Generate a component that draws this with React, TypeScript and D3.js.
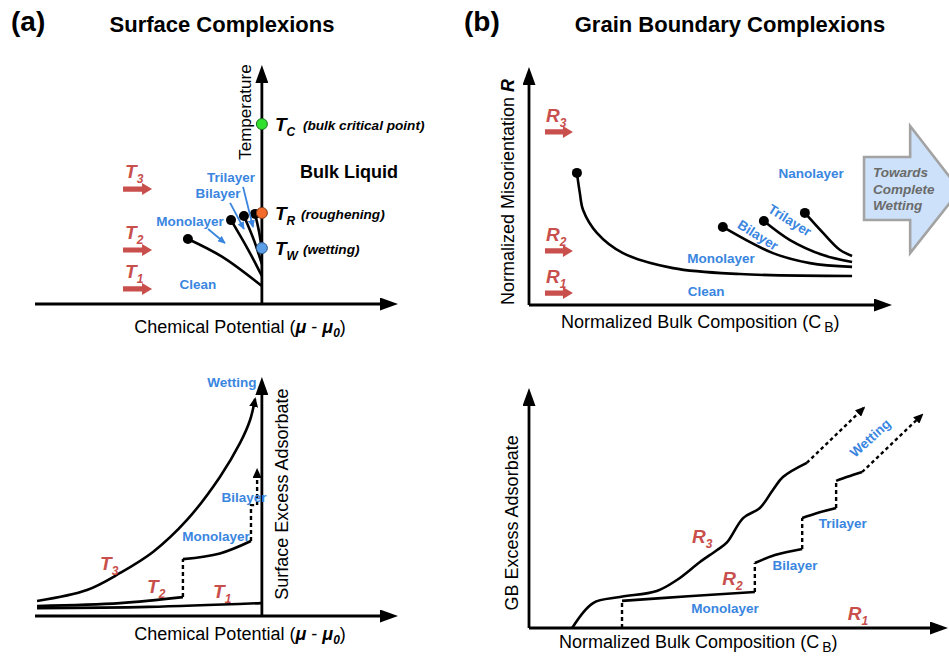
import * as d3 from "d3";

type P = [number, number];

const W = 949;
const H = 656;
const BLUE = "#3a86df";
const RED = "#c84f4c";
const FONT = "'Liberation Sans', Arial, Helvetica, sans-serif";

// ---- (a) top: temperature vs chemical potential ----
const tempPoints = [
  { sub: "C", t: 7.53, fill: "#2fe02f", stroke: "#1d6e1d", note: "(bulk critical point)" },
  { sub: "R", t: 3.81, fill: "#f46a2a", stroke: "#7a3a1a", note: "(roughening)" },
  { sub: "W", t: 2.34, fill: "#5a9ee8", stroke: "#2d5a8a", note: "(wetting)" },
];
const transitionLines: P[][] = [
  [[-3.26, 2.72], [-1.76, 1.98], [0, 0.75]],
  [[-1.36, 3.51], [-0.62, 2.3], [0, 1.17]],
  [[-0.79, 3.68], [-0.33, 2.62], [0, 1.67]],
  [[-0.3, 3.77], [-0.12, 3.0], [0, 2.26]],
];
const tempLevels = [
  { sub: "3", t: 4.81 },
  { sub: "2", t: 2.26 },
  { sub: "1", t: 0.63 },
];
const surfaceLabels = [
  { text: "Trilayer", mu: -1.36, t: 5.31 },
  { text: "Bilayer", mu: -1.93, t: 4.64 },
  { text: "Monolayer", mu: -3.17, t: 3.47 },
  { text: "Clean", mu: -2.82, t: 0.84 },
];
const pointers: [P, P][] = [
  [[-2.37, 3.14], [-1.63, 2.55]],
  [[-1.4, 4.23], [-0.79, 3.14]],
  [[-0.83, 4.9], [-0.39, 3.22]],
];

// ---- (a) bottom: adsorption isotherms ----
const isoT3: P[] = [
  [-9.91, 0.63], [-7.71, 1.09], [-6.25, 1.8], [-4.8, 2.68], [-3.3, 4.02],
  [-1.85, 5.82], [-0.96, 7.24], [-0.52, 8.2], [-0.3, 9.08],
];
const isoT2a: P[] = [[-9.91, 0.42], [-6.25, 0.54], [-3.48, 0.79]];
const isoT2jump1: P[] = [[-3.48, 0.79], [-3.48, 2.38]];
const isoT2b: P[] = [[-3.48, 2.38], [-1.85, 2.62], [-0.48, 3.14]];
const isoT2jump2: P[] = [[-0.48, 3.14], [-0.48, 4.64], [-0.21, 4.64], [-0.21, 6.11]];
const isoT1: P[] = [[-9.91, 0.33], [-5, 0.38], [-0.04, 0.54]];
const isoTemps = [
  { sub: "3", mu: -7.13, g: 1.92 },
  { sub: "2", mu: -5.06, g: 0.96 },
  { sub: "1", mu: -2.15, g: 0.75 },
];
const isoLabels = [
  { text: "Wetting", mu: -1.32, g: 9.79 },
  { text: "Bilayer", mu: -0.79, g: 4.98 },
  { text: "Monolayer", mu: -2.02, g: 3.35 },
];

// ---- (b) top: misorientation vs composition ----
const gbLines: P[][] = [
  [[1.32, 5.55], [1.4, 4.71], [1.49, 3.99], [1.87, 3.03], [2.59, 2.18], [3.97, 1.55], [5.81, 1.3], [8.9, 1.22]],
  [[5.34, 3.28], [6.72, 2.18], [7.74, 1.76], [8.9, 1.6]],
  [[6.47, 3.53], [7.19, 2.73], [8.1, 2.1], [8.9, 1.81]],
  [[7.6, 3.87], [8.1, 3.03], [8.57, 2.31], [8.9, 2.06]],
];
const misLevels = [
  { sub: "3", r: 7.27 },
  { sub: "2", r: 2.27 },
  { sub: "1", r: 0.5 },
];
const gbLabels = [
  { text: "Nanolayer", c: 7.77, r: 5.55, angle: 0 },
  { text: "Trilayer", c: 7.19, r: 3.57, angle: 32 },
  { text: "Bilayer", c: 6.31, r: 2.94, angle: 32 },
  { text: "Monolayer", c: 5.29, r: 1.97, angle: 0 },
  { text: "Clean", c: 4.88, r: 0.59, angle: 0 },
];
const wettingArrow: P[] = [
  [9.23, 6.22], [10.5, 6.22], [10.5, 7.52], [11.87, 4.83],
  [10.5, 2.18], [10.5, 3.57], [9.23, 3.57],
];
const wettingText = ["Towards", "Complete", "Wetting"];
const wettingRows = [5.38, 4.66, 3.99];

// ---- (b) bottom: GB adsorption ----
const gbR3: P[] = [
  [1.03, 0], [1.53, 1.04], [2.17, 1.29], [3.05, 1.54], [3.53, 2.0], [4.08, 2.75],
  [4.49, 3.25], [4.73, 3.58], [5.11, 4.58], [5.51, 5.0], [5.82, 5.75], [6.06, 6.29], [6.63, 6.88],
];
const gbR3Ext: P[] = [[6.63, 6.88], [7.99, 9.17]];
const stepSolid: P[][] = [
  [[2.22, 1.13], [3.8, 1.32], [5.39, 1.5]],
  [[5.39, 2.71], [5.87, 3.04], [6.52, 3.29]],
  [[6.52, 4.58], [6.9, 4.8], [7.33, 5.0]],
  [[7.33, 6.13], [7.6, 6.3], [7.95, 6.5]],
];
const stepDashed: P[][] = [
  [[2.22, 0], [2.22, 1.13]],
  [[5.39, 1.5], [5.39, 2.71]],
  [[6.52, 3.29], [6.52, 4.58]],
  [[7.33, 5.0], [7.33, 6.13]],
];
const stepExt: P[] = [[7.95, 6.5], [9.38, 8.88]];
const gbAdsLabels = [
  { text: "Monolayer", c: 4.68, g: 0.83 },
  { text: "Bilayer", c: 6.35, g: 2.63 },
  { text: "Trilayer", c: 7.49, g: 4.38 },
];
const gbAdsR = [
  { sub: "3", c: 3.89, g: 3.54 },
  { sub: "2", c: 4.61, g: 1.79 },
  { sub: "1", c: 7.61, g: 0.33 },
];

// scales
const xA = d3.scaleLinear().domain([-10, 6]).range([35, 398]);
const yA = d3.scaleLinear().domain([0, 10]).range([304, 65]);
const yA2 = d3.scaleLinear().domain([0, 10]).range([616, 377]);
const xB = d3.scaleLinear().domain([0, 10]).range([529, 892]);
const yB = d3.scaleLinear().domain([0, 10]).range([305, 67]);
const xB2 = d3.scaleLinear().domain([0, 10]).range([529, 948]);
const yB2 = d3.scaleLinear().domain([0, 10]).range([628, 388]);

const mkLine = (
  x: d3.ScaleLinear<number, number>,
  y: d3.ScaleLinear<number, number>,
  curve: d3.CurveFactory = d3.curveCatmullRom
) =>
  d3
    .line<P>()
    .x((d) => x(d[0]))
    .y((d) => y(d[1]))
    .curve(curve);

const Axis = ({ x1, y1, x2, y2 }: { x1: number; y1: number; x2: number; y2: number }) => {
  const len = Math.hypot(x2 - x1, y2 - y1);
  const k = (len - 14) / len;
  return (
    <line
      x1={x1}
      y1={y1}
      x2={x1 + (x2 - x1) * k}
      y2={y1 + (y2 - y1) * k}
      stroke="#000"
      strokeWidth={2.8}
      markerEnd="url(#axisHead)"
    />
  );
};

const RedArrow = ({ x0, x1, y }: { x0: number; x1: number; y: number }) => {
  const hl = 10;
  const pts = [
    [x0, y - 2.6], [x1 - hl, y - 2.6], [x1 - hl, y - 6], [x1, y],
    [x1 - hl, y + 6], [x1 - hl, y + 2.6], [x0, y + 2.6],
  ];
  return <polygon points={pts.map((p) => p.join(",")).join(" ")} fill={RED} />;
};

const Sym = ({ x, y, main, sub, color, size = 19 }: { x: number; y: number; main: string; sub: string; color: string; size?: number }) => (
  <text x={x} y={y} fill={color} fontWeight="bold" fontStyle="italic" fontSize={size}>
    {main}
    <tspan fontSize={size * 0.63} dy={5}>{sub}</tspan>
  </text>
);

const BlueLabel = ({ x, y, text, angle = 0 }: { x: number; y: number; text: string; angle?: number }) => (
  <text
    transform={`translate(${x},${y}) rotate(${angle})`}
    textAnchor="middle"
    dy="0.36em"
    fill={BLUE}
    fontWeight="bold"
    fontSize={13.5}
  >
    {text}
  </text>
);

export default function App() {
  const lA = mkLine(xA, yA);
  const lA2 = mkLine(xA, yA2);
  const lA2lin = mkLine(xA, yA2, d3.curveLinear);
  const lB = mkLine(xB, yB);
  const lB2 = mkLine(xB2, yB2);
  const lB2lin = mkLine(xB2, yB2, d3.curveLinear);

  const muLabel = (x: number, y: number) => (
    <text x={x} y={y} textAnchor="middle" fontSize={18}>
      Chemical Potential (
      <tspan fontWeight="bold" fontStyle="italic">μ</tspan> -{" "}
      <tspan fontWeight="bold" fontStyle="italic">μ</tspan>
      <tspan fontWeight="bold" fontStyle="italic" fontSize={12} dy={4}>0</tspan>
      <tspan dy={-4}>)</tspan>
    </text>
  );
  const cbLabel = (x: number, y: number) => (
    <text x={x} y={y} textAnchor="middle" fontSize={18}>
      Normalized Bulk Composition (C
      <tspan fontSize={14} dx={3} dy={4}>B</tspan>
      <tspan dy={-4}>)</tspan>
    </text>
  );

  return (
    <svg
      width={W}
      height={H}
      style={{ position: "absolute", left: 0, top: 0, background: "#fff" }}
      fontFamily={FONT}
    >
      <defs>
        <marker id="axisHead" markerUnits="userSpaceOnUse" markerWidth={18} markerHeight={13} refX={4} refY={6.5} orient="auto">
          <path d="M0,0 L18,6.5 L0,13 Z" fill="#000" />
        </marker>
        <marker id="smallHead" markerUnits="userSpaceOnUse" markerWidth={10} markerHeight={9} refX={8} refY={4.5} orient="auto">
          <path d="M0,0 L10,4.5 L0,9 Z" fill="#000" />
        </marker>
        <marker id="blueHead" markerUnits="userSpaceOnUse" markerWidth={8} markerHeight={7} refX={7} refY={3.5} orient="auto">
          <path d="M0,0 L8,3.5 L0,7 Z" fill={BLUE} />
        </marker>
      </defs>

      {/* titles */}
      <text x={11} y={31} fontSize={28} fontWeight="bold">(a)</text>
      <text x={222} y={32} fontSize={22} fontWeight="bold" textAnchor="middle">Surface Complexions</text>
      <text x={464} y={31} fontSize={28} fontWeight="bold">(b)</text>
      <text x={730} y={32} fontSize={22} fontWeight="bold" textAnchor="middle">Grain Boundary Complexions</text>

      {/* ===== (a) top ===== */}
      <Axis x1={xA(-10)} y1={yA(0)} x2={xA(6)} y2={yA(0)} />
      <Axis x1={xA(0)} y1={yA(0)} x2={xA(0)} y2={yA(10)} />
      <text transform={`translate(${xA(-0.74)},${yA(8.03)}) rotate(-90)`} textAnchor="middle" dy="0.35em" fontSize={17}>
        Temperature
      </text>
      {muLabel(xA(-0.96), 333)}
      {transitionLines.map((d, i) => (
        <g key={i}>
          <path d={lA(d) ?? ""} fill="none" stroke="#000" strokeWidth={2.6} />
          <circle cx={xA(d[0][0])} cy={yA(d[0][1])} r={5} fill="#000" />
        </g>
      ))}
      {pointers.map(([a, b], i) => (
        <line key={i} x1={xA(a[0])} y1={yA(a[1])} x2={xA(b[0])} y2={yA(b[1])} stroke={BLUE} strokeWidth={1.8} markerEnd="url(#blueHead)" />
      ))}
      {surfaceLabels.map((d) => (
        <BlueLabel key={d.text} x={xA(d.mu)} y={yA(d.t)} text={d.text} />
      ))}
      {tempPoints.map((d) => (
        <g key={d.sub}>
          <circle cx={xA(0)} cy={yA(d.t)} r={5.5} fill={d.fill} stroke={d.stroke} strokeWidth={1} />
          <Sym x={xA(0) + 13} y={yA(d.t) + 7} main="T" sub={d.sub} color="#000" size={19} />
          <text x={xA(0) + (d.sub === "R" ? 39 : 41)} y={yA(d.t) + 6} fontSize={13.6} fontWeight="bold" fontStyle="italic">
            {d.note}
          </text>
        </g>
      ))}
      <text x={xA(3.84)} y={yA(5.56)} dy="0.36em" textAnchor="middle" fontSize={18} fontWeight="bold">
        Bulk Liquid
      </text>
      {tempLevels.map((d) => (
        <g key={d.sub}>
          <RedArrow x0={xA(-6.12)} x1={xA(-4.84)} y={yA(d.t)} />
          <Sym x={xA(-6.12) + 2} y={yA(d.t) - 11} main="T" sub={d.sub} color={RED} />
        </g>
      ))}

      {/* ===== (a) bottom ===== */}
      <Axis x1={xA(-10)} y1={yA2(0)} x2={xA(6)} y2={yA2(0)} />
      <Axis x1={xA(0)} y1={yA2(0)} x2={xA(0)} y2={yA2(10)} />
      <text transform={`translate(${xA(0.89)},${yA2(5.1)}) rotate(-90)`} textAnchor="middle" dy="0.35em" fontSize={18}>
        Surface Excess Adsorbate
      </text>
      {muLabel(xA(-0.96), 640)}
      <path d={lA2(isoT3) ?? ""} fill="none" stroke="#000" strokeWidth={2.6} markerEnd="url(#smallHead)" />
      <path d={lA2(isoT2a) ?? ""} fill="none" stroke="#000" strokeWidth={2.6} />
      <path d={lA2(isoT2b) ?? ""} fill="none" stroke="#000" strokeWidth={2.6} />
      <path d={lA2lin(isoT2jump1) ?? ""} fill="none" stroke="#000" strokeWidth={2.4} strokeDasharray="4 3" />
      <path d={lA2lin(isoT2jump2) ?? ""} fill="none" stroke="#000" strokeWidth={2.4} strokeDasharray="4 3" markerEnd="url(#smallHead)" />
      <path d={lA2(isoT1) ?? ""} fill="none" stroke="#000" strokeWidth={2.6} />
      {isoTemps.map((d) => (
        <Sym key={d.sub} x={xA(d.mu)} y={yA2(d.g)} main="T" sub={d.sub} color={RED} />
      ))}
      {isoLabels.map((d) => (
        <BlueLabel key={d.text} x={xA(d.mu)} y={yA2(d.g)} text={d.text} />
      ))}

      {/* ===== (b) top ===== */}
      <Axis x1={xB(0)} y1={yB(0)} x2={xB(10)} y2={yB(0)} />
      <Axis x1={xB(0)} y1={yB(0)} x2={xB(0)} y2={yB(10)} />
      <text transform={`translate(${xB(-0.58)},${yB(4.75)}) rotate(-90)`} textAnchor="middle" dy="0.35em" fontSize={18}>
        Normalized Misorientation <tspan fontWeight="bold" fontStyle="italic">R</tspan>
      </text>
      {cbLabel(xB(4.72), 328)}
      {gbLines.map((d, i) => (
        <g key={i}>
          <path d={lB(d) ?? ""} fill="none" stroke="#000" strokeWidth={2.6} />
          <circle cx={xB(d[0][0])} cy={yB(d[0][1])} r={5} fill="#000" />
        </g>
      ))}
      {gbLabels.map((d) => (
        <BlueLabel key={d.text} x={xB(d.c)} y={yB(d.r)} text={d.text} angle={d.angle} />
      ))}
      {misLevels.map((d) => (
        <g key={d.sub}>
          <RedArrow x0={xB(0.44)} x1={xB(1.21)} y={yB(d.r)} />
          <Sym x={xB(0.44) + 1} y={yB(d.r) - 10} main="R" sub={d.sub} color={RED} />
        </g>
      ))}
      <polygon
        points={wettingArrow.map((p) => `${xB(p[0])},${yB(p[1])}`).join(" ")}
        fill="#cde2fa"
        stroke="#a3a3a3"
        strokeWidth={2.6}
      />
      {wettingText.map((t, i) => (
        <text key={t} x={xB(9.48)} y={yB(wettingRows[i])} fontSize={13.5} fontWeight="bold" fontStyle="italic" fill="#6a6a6a">
          {t}
        </text>
      ))}

      {/* ===== (b) bottom ===== */}
      <Axis x1={xB2(0)} y1={yB2(0)} x2={xB2(10)} y2={yB2(0)} />
      <Axis x1={xB2(0)} y1={yB2(0)} x2={xB2(0)} y2={yB2(10)} />
      <text transform={`translate(${xB2(-0.41)},${yB2(4.38)}) rotate(-90)`} textAnchor="middle" dy="0.35em" fontSize={18}>
        GB Excess Adsorbate
      </text>
      {cbLabel(xB2(4.04), 648)}
      <path d={lB2(gbR3) ?? ""} fill="none" stroke="#000" strokeWidth={2.6} />
      <path d={lB2lin(gbR3Ext) ?? ""} fill="none" stroke="#000" strokeWidth={2.4} strokeDasharray="3.5 3" markerEnd="url(#smallHead)" />
      {stepSolid.map((d, i) => (
        <path key={i} d={lB2(d) ?? ""} fill="none" stroke="#000" strokeWidth={2.6} />
      ))}
      {stepDashed.map((d, i) => (
        <path key={i} d={lB2lin(d) ?? ""} fill="none" stroke="#000" strokeWidth={2.4} strokeDasharray="4 3" />
      ))}
      <path d={lB2lin(stepExt) ?? ""} fill="none" stroke="#000" strokeWidth={2.4} strokeDasharray="3.5 3" markerEnd="url(#smallHead)" />
      {gbAdsLabels.map((d) => (
        <BlueLabel key={d.text} x={xB2(d.c)} y={yB2(d.g)} text={d.text} />
      ))}
      <BlueLabel x={xB2(8.14)} y={yB2(7.92)} text="Wetting" angle={-42} />
      {gbAdsR.map((d) => (
        <Sym key={d.sub} x={xB2(d.c)} y={yB2(d.g)} main="R" sub={d.sub} color={RED} />
      ))}
    </svg>
  );
}
